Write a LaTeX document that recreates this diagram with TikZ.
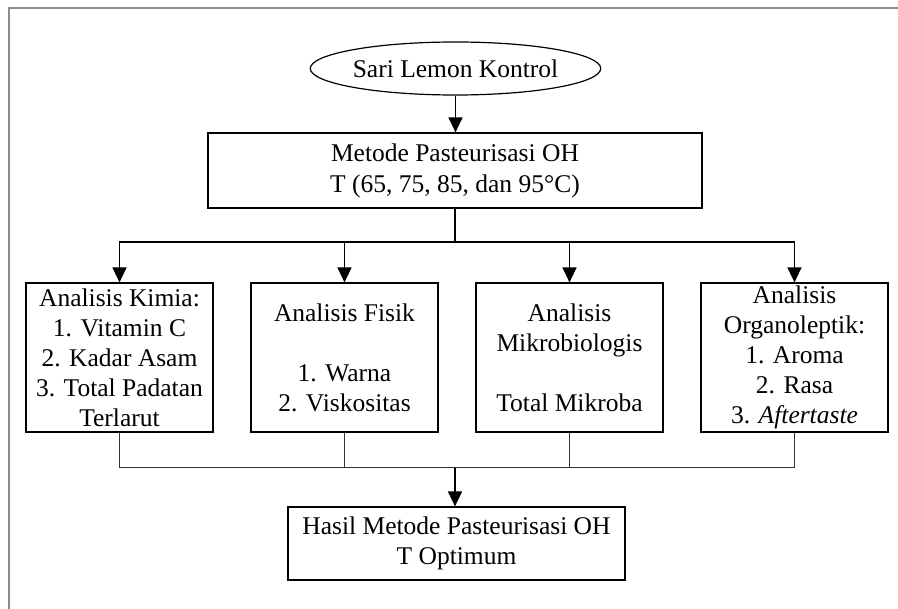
\documentclass[tikz,border=0pt]{standalone}
\usepackage{fontspec}
\setmainfont{Liberation Serif}
\usetikzlibrary{arrows.meta,shapes.geometric}

\begin{document}
\begin{tikzpicture}[x=1pt,y=-1pt,
  txt/.style={font=\fontsize{25.5}{30}\selectfont, align=center, inner sep=0pt},
  box/.style={txt, draw, line width=1.2pt, rectangle},
  anbox/.style={box, minimum width=187pt, minimum height=149pt},
  arr/.style={line width=1.5pt, -{Triangle[width=14pt,length=15pt]}},
  link/.style={line width=1.5pt},
  thin link/.style={line width=1pt, black!80}
]
\useasboundingbox (0,0) rectangle (898,609);
% page frame
\draw[black!45, line width=2pt] (8.5,609) -- (8.5,8.5) -- (898,8.5);

% start
\node[txt, draw, line width=1.2pt, ellipse, minimum width=265pt, minimum height=53pt] (start) at (455.5,68.5) {Sari Lemon Kontrol};

% pasteurisation step
\node[box, minimum width=494pt, minimum height=75pt, font=\fontsize{25.5}{31}\selectfont] (method) at (455,170.5)
  {Metode Pasteurisasi OH\\T (65, 75, 85, dan 95\textdegree C)};

% analyses
\node[anbox] (kimia) at (119.5,357.5)
  {Analisis Kimia:\\1. Vitamin C\\2. Kadar Asam\\3. Total Padatan\\Terlarut};
\node[anbox] (fisik) at (344.5,357.5)
  {Analisis Fisik\\\mbox{}\\1. Warna\\2. Viskositas};
\node[anbox] (mikro) at (569.5,357.5)
  {Analisis\\Mikrobiologis\\\mbox{}\\Total Mikroba};
\node[anbox] (organo) at (794.5,357.5)
  {Analisis\\Organoleptik:\\1. Aroma\\2. Rasa\\3. \textit{Aftertaste}};

% result
\node[box, minimum width=337pt, minimum height=73pt] (hasil) at (456.5,543.5)
  {Hasil Metode Pasteurisasi OH\\T Optimum};

% connectors
\coordinate (split) at (455,242);
\coordinate (join) at (455,468);

\draw[arr] (start) -- (start |- method.north);
\draw[link] (method.south -| split) -- (split);
\draw[arr] (split) -| (kimia.north);
\draw[arr] (split) -| (fisik.north);
\draw[arr] (split) -| (mikro.north);
\draw[arr] (split) -| (organo.north);

\draw[thin link] (kimia.south) |- (join);
\draw[thin link] (fisik.south) |- (join);
\draw[thin link] (mikro.south) |- (join);
\draw[thin link] (organo.south) |- (join);
\draw[arr] (join) -- (join |- hasil.north);
\end{tikzpicture}
\end{document}
